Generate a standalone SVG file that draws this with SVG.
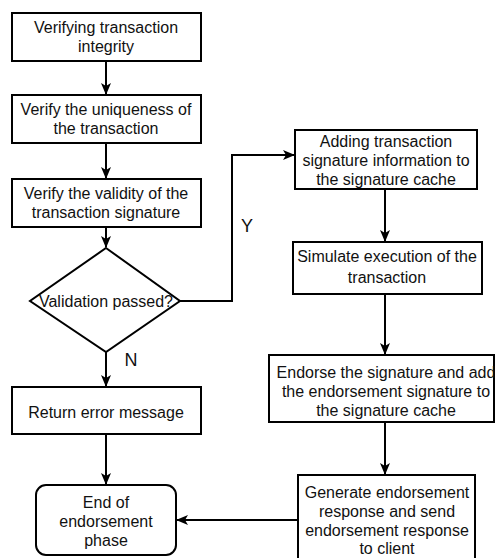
<svg xmlns="http://www.w3.org/2000/svg" width="496" height="558" viewBox="0 0 496 558">
<defs>
<style>
.box{fill:#fff;stroke:#000;stroke-width:2}
.t{font-family:"Liberation Sans",Arial,sans-serif;font-size:16px;fill:#111;text-anchor:middle}
.lbl{font-family:"Liberation Sans",Arial,sans-serif;font-size:18px;fill:#111;text-anchor:middle}
.c{fill:none;stroke:#000;stroke-width:2}
</style>
<marker id="ah" viewBox="0 0 12 10" refX="11" refY="5" markerWidth="12" markerHeight="10" markerUnits="userSpaceOnUse" orient="auto">
<path d="M0,0 L12,5 L0,10 L3,5 z" fill="#000"/>
</marker>
</defs>
<rect width="496" height="558" fill="#fff"/>
<g id="connectors">
<path class="c" d="M106,61 V94" marker-end="url(#ah)"/>
<path class="c" d="M106,143 V178" marker-end="url(#ah)"/>
<path class="c" d="M106,227 V247" marker-end="url(#ah)"/>
<path class="c" d="M106,352 V386" marker-end="url(#ah)"/>
<path class="c" d="M106,434 V484" marker-end="url(#ah)"/>
<path class="c" d="M180,301 H232 V155 H294" marker-end="url(#ah)"/>
<path class="c" d="M385,189 V241" marker-end="url(#ah)"/>
<path class="c" d="M385,294 V354" marker-end="url(#ah)"/>
<path class="c" d="M385,422 V474" marker-end="url(#ah)"/>
<path class="c" d="M298,520 H177" marker-end="url(#ah)"/>
<text class="lbl" x="247" y="232">Y</text>
<text class="lbl" x="131" y="366">N</text>
</g>
<g id="n1">
<rect class="box" x="12" y="13" width="189" height="48"/>
<text class="t" x="106" y="33">Verifying transaction</text>
<text class="t" x="106" y="52">integrity</text>
</g>
<g id="n2">
<rect class="box" x="12" y="95" width="189" height="48"/>
<text class="t" x="106" y="115">Verify the uniqueness of</text>
<text class="t" x="106" y="134">the transaction</text>
</g>
<g id="n3">
<rect class="box" x="12" y="179" width="189" height="48"/>
<text class="t" x="106" y="199">Verify the validity of the</text>
<text class="t" x="106" y="218">transaction signature</text>
</g>
<g id="n4">
<polygon class="box" points="106,248 180,301 106,352 30,301"/>
<text class="t" x="106" y="307">Validation passed?</text>
</g>
<g id="n5">
<rect class="box" x="12" y="387" width="189" height="47"/>
<text class="t" x="106" y="418">Return error message</text>
</g>
<g id="n6">
<rect class="box" x="36" y="485" width="140" height="70" rx="10" ry="10"/>
<text class="t" x="106" y="508">End of</text>
<text class="t" x="106" y="527">endorsement</text>
<text class="t" x="106" y="546">phase</text>
</g>
<g id="n7">
<rect class="box" x="295" y="130" width="182" height="59"/>
<text class="t" x="386" y="147">Adding transaction</text>
<text class="t" x="386" y="166">signature information to</text>
<text class="t" x="386" y="185">the signature cache</text>
</g>
<g id="n8">
<rect class="box" x="293" y="242" width="189" height="52"/>
<text class="t" x="387" y="262">Simulate execution of the</text>
<text class="t" x="387" y="283">transaction</text>
</g>
<g id="n9">
<rect class="box" x="269" y="355" width="225" height="67"/>
<text class="t" x="386" y="378">Endorse the signature and add</text>
<text class="t" x="386" y="397">the endorsement signature to</text>
<text class="t" x="386" y="416">the signature cache</text>
</g>
<g id="n10">
<rect class="box" x="298" y="475" width="177" height="95"/>
<text class="t" x="387" y="498">Generate endorsement</text>
<text class="t" x="387" y="517">response and send</text>
<text class="t" x="387" y="536">endorsement response</text>
<text class="t" x="387" y="554">to client</text>
</g>
</svg>
